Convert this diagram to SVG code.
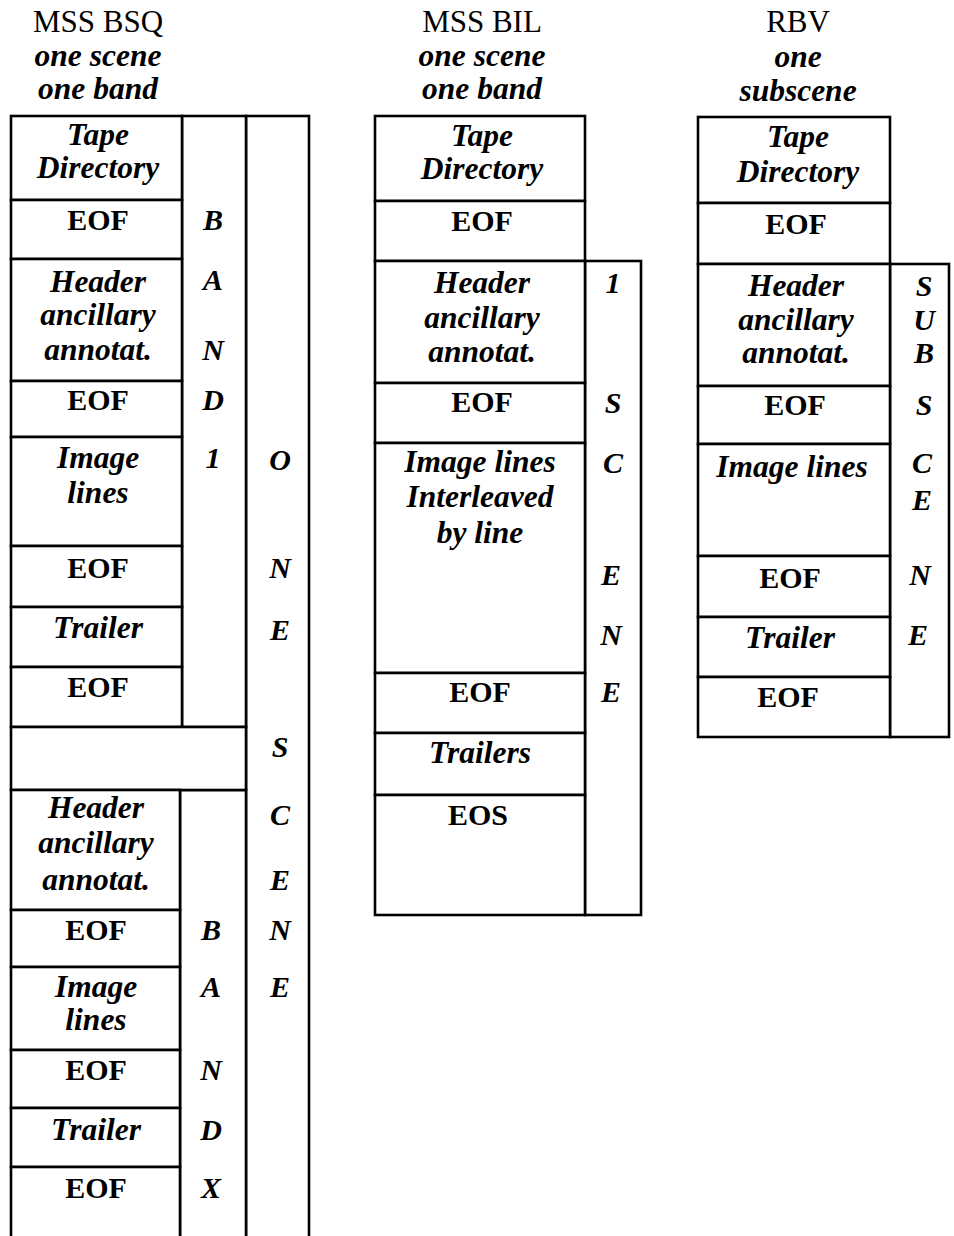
<svg xmlns="http://www.w3.org/2000/svg" width="954" height="1236" viewBox="0 0 954 1236">
<style>
rect{fill:#fff;stroke:#000;stroke-width:2.6}
text{font-family:"Liberation Serif","Times New Roman",serif;font-size:30px;fill:#000;text-anchor:middle}
.h{font-weight:normal;font-size:31px}
.i{font-style:italic;font-weight:bold;font-size:31.5px}
.b{font-weight:bold}
.l{font-style:italic;font-weight:bold}
</style>
<rect x="0" y="0" width="954" height="1236" style="stroke:none"/>
<g id="titles">
<text class="h" x="98" y="32">MSS BSQ</text>
<text class="i" x="98" y="66">one scene</text>
<text class="i" x="98" y="99">one band</text>
<text class="h" x="482" y="32">MSS BIL</text>
<text class="i" x="482" y="66">one scene</text>
<text class="i" x="482" y="99">one band</text>
<text class="h" x="798" y="32">RBV</text>
<text class="i" x="798" y="67">one</text>
<text class="i" x="798" y="101">subscene</text>
</g>
<g id="bsq-scene"><rect x="246" y="116" width="63" height="1130"/>
<text class="l" x="280" y="470">O</text><text class="l" x="280" y="578">N</text><text class="l" x="280" y="640">E</text><text class="l" x="280" y="757">S</text><text class="l" x="280" y="825">C</text><text class="l" x="280" y="890">E</text><text class="l" x="280" y="940">N</text><text class="l" x="280" y="997">E</text></g>
<g id="bsq-band1"><rect x="182" y="116" width="64" height="611"/>
<text class="l" x="213" y="230">B</text><text class="l" x="213" y="290">A</text><text class="l" x="213" y="360">N</text><text class="l" x="213" y="410">D</text><text class="l" x="213" y="468">1</text></g>
<g id="bsq-band2"><rect x="180" y="790" width="66" height="456"/>
<text class="l" x="211" y="940">B</text><text class="l" x="211" y="997">A</text><text class="l" x="211" y="1080">N</text><text class="l" x="211" y="1140">D</text><text class="l" x="211" y="1198">X</text></g>
<g id="bsq-tape"><rect x="11" y="116" width="171" height="84"/><text class="i" x="98" y="145">Tape</text><text class="i" x="98" y="178">Directory</text></g>
<g id="bsq-eof1"><rect x="11" y="200" width="171" height="59"/><text class="b" x="98" y="230">EOF</text></g>
<g id="bsq-hdr1"><rect x="11" y="259" width="171" height="122"/><text class="i" x="98" y="292">Header</text><text class="i" x="98" y="325">ancillary</text><text class="i" x="98" y="360">annotat.</text></g>
<g id="bsq-eof2"><rect x="11" y="381" width="171" height="56"/><text class="b" x="98" y="410">EOF</text></g>
<g id="bsq-img1"><rect x="11" y="437" width="171" height="109"/><text class="i" x="98" y="468">Image</text><text class="i" x="98" y="503">lines</text></g>
<g id="bsq-eof3"><rect x="11" y="546" width="171" height="61"/><text class="b" x="98" y="578">EOF</text></g>
<g id="bsq-trl1"><rect x="11" y="607" width="171" height="60"/><text class="i" x="98" y="638">Trailer</text></g>
<g id="bsq-eof4"><rect x="11" y="667" width="171" height="60"/><text class="b" x="98" y="697">EOF</text></g>
<g id="bsq-gap"><rect x="11" y="727" width="235" height="63"/></g>
<g id="bsq-hdr2"><rect x="11" y="790" width="169" height="120"/><text class="i" x="96" y="818">Header</text><text class="i" x="96" y="853">ancillary</text><text class="i" x="96" y="890">annotat.</text></g>
<g id="bsq-eof5"><rect x="11" y="910" width="169" height="57"/><text class="b" x="96" y="940">EOF</text></g>
<g id="bsq-img2"><rect x="11" y="967" width="169" height="83"/><text class="i" x="96" y="997">Image</text><text class="i" x="96" y="1030">lines</text></g>
<g id="bsq-eof6"><rect x="11" y="1050" width="169" height="58"/><text class="b" x="96" y="1080">EOF</text></g>
<g id="bsq-trl2"><rect x="11" y="1108" width="169" height="59"/><text class="i" x="96" y="1140">Trailer</text></g>
<g id="bsq-eof7"><rect x="11" y="1167" width="169" height="80"/><text class="b" x="96" y="1198">EOF</text></g>

<g id="bil-side"><rect x="585" y="261" width="56" height="654"/>
<text class="l" x="613" y="293">1</text><text class="l" x="613" y="413">S</text><text class="l" x="613" y="473">C</text><text class="l" x="611" y="585">E</text><text class="l" x="611" y="645">N</text><text class="l" x="611" y="702">E</text></g>
<g id="bil-tape"><rect x="375" y="116" width="210" height="85"/><text class="i" x="482" y="146">Tape</text><text class="i" x="482" y="179">Directory</text></g>
<g id="bil-eof1"><rect x="375" y="201" width="210" height="60"/><text class="b" x="482" y="231">EOF</text></g>
<g id="bil-hdr"><rect x="375" y="261" width="210" height="122"/><text class="i" x="482" y="293">Header</text><text class="i" x="482" y="328">ancillary</text><text class="i" x="482" y="362">annotat.</text></g>
<g id="bil-eof2"><rect x="375" y="383" width="210" height="60"/><text class="b" x="482" y="412">EOF</text></g>
<g id="bil-img"><rect x="375" y="443" width="210" height="230"/><text class="i" x="480" y="472">Image lines</text><text class="i" x="480" y="507">Interleaved</text><text class="i" x="480" y="543">by line</text></g>
<g id="bil-eof3"><rect x="375" y="673" width="210" height="60"/><text class="b" x="480" y="702">EOF</text></g>
<g id="bil-trl"><rect x="375" y="733" width="210" height="62"/><text class="i" x="480" y="763">Trailers</text></g>
<g id="bil-eos"><rect x="375" y="795" width="210" height="120"/><text class="b" x="478" y="825">EOS</text></g>

<g id="rbv-side"><rect x="890" y="264" width="59" height="473"/>
<text class="l" x="924" y="296">S</text><text class="l" x="924" y="330">U</text><text class="l" x="924" y="363">B</text><text class="l" x="924" y="415">S</text><text class="l" x="922" y="473">C</text><text class="l" x="922" y="510">E</text><text class="l" x="920" y="585">N</text><text class="l" x="918" y="645">E</text></g>
<g id="rbv-tape"><rect x="698" y="117" width="192" height="86"/><text class="i" x="798" y="147">Tape</text><text class="i" x="798" y="182">Directory</text></g>
<g id="rbv-eof1"><rect x="698" y="203" width="192" height="61"/><text class="b" x="796" y="234">EOF</text></g>
<g id="rbv-hdr"><rect x="698" y="264" width="192" height="122"/><text class="i" x="796" y="296">Header</text><text class="i" x="796" y="330">ancillary</text><text class="i" x="796" y="363">annotat.</text></g>
<g id="rbv-eof2"><rect x="698" y="386" width="192" height="58"/><text class="b" x="795" y="415">EOF</text></g>
<g id="rbv-img"><rect x="698" y="444" width="192" height="112"/><text class="i" x="792" y="477">Image lines</text></g>
<g id="rbv-eof3"><rect x="698" y="556" width="192" height="61"/><text class="b" x="790" y="588">EOF</text></g>
<g id="rbv-trl"><rect x="698" y="617" width="192" height="60"/><text class="i" x="790" y="648">Trailer</text></g>
<g id="rbv-eof4"><rect x="698" y="677" width="192" height="60"/><text class="b" x="788" y="707">EOF</text></g>
<g id="connectors"></g>
</svg>
